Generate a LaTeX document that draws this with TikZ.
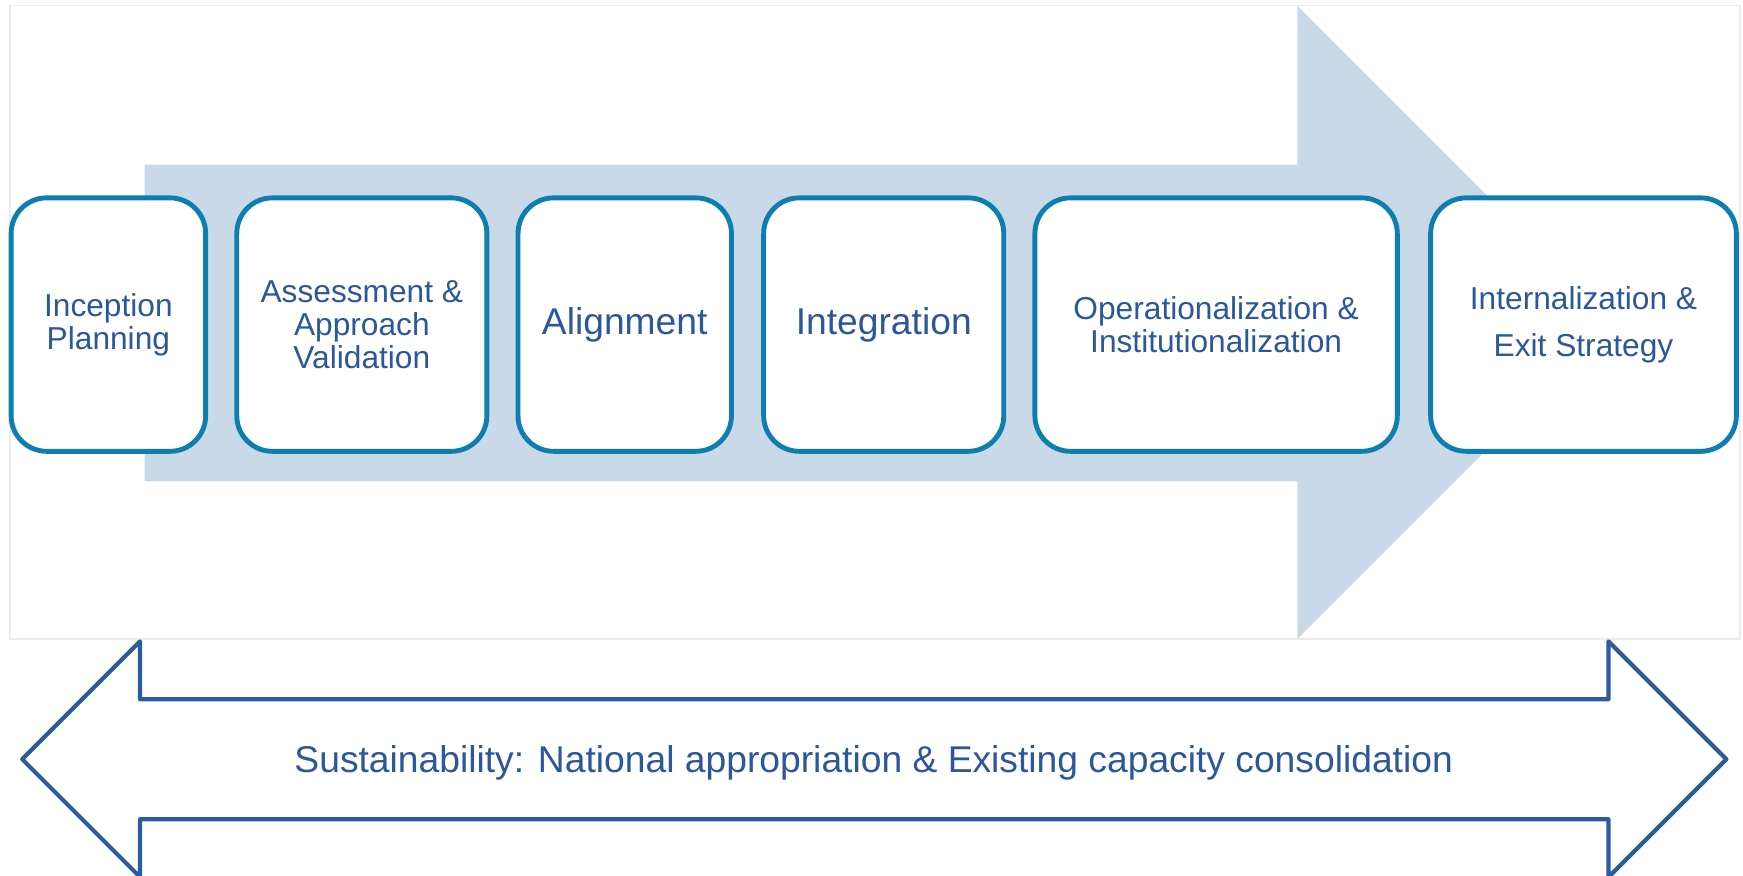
\documentclass[tikz,border=0pt]{standalone}
\usepackage{fontspec}
\setmainfont{Liberation Sans}
\usepackage{tikz}
\usetikzlibrary{positioning}
\definecolor{boxblue}{RGB}{14,125,176}
\definecolor{textblue}{RGB}{44,87,154}
\definecolor{flowblue}{RGB}{201,217,232}
\definecolor{navyline}{RGB}{43,92,157}
\definecolor{framegray}{RGB}{236,236,236}

\begin{document}
\begin{tikzpicture}
[x=0.5pt, y=-0.5pt,
frame/.style={draw=framegray, line width=0.8pt},
flow/.style={fill=flowblue},
phase/.style={rectangle, rounded corners=16pt, draw=boxblue, line width=2.2pt, fill=white, text=textblue, align=center, minimum height=114pt, outer sep=0pt, inner sep=2pt, font=\fontsize{14.25}{15}\selectfont},
bigphase/.style={phase, font=\fontsize{16.75}{20}\selectfont},
twoway/.style={draw=navyline, line width=1.9pt, line join=round, fill=white},
node distance=14pt,]
\useasboundingbox (0,0) rectangle (1568,788);
\draw [frame] (9,5) rectangle (1565,575);
\fill [flow] (130,148) -- (1167,148) -- (1167,5) -- (1452,290) -- (1167,575) -- (1167,433) -- (130,433) -- cycle;

\node (inception) [phase, minimum width=87.5pt] at (97.5,292) {Inception\\Planning};
\node (assessment) [phase, minimum width=112.5pt, right=14pt of inception] {Assessment \&\\Approach\\Validation};
\node (alignment) [bigphase, minimum width=96pt, right=14pt of assessment] {Alignment};
\node (integration) [bigphase, minimum width=108pt, right=14.5pt of alignment] {Integration};
\node (operational) [phase, minimum width=163pt, right=14pt of integration] {Operationalization \&\\Institutionalization};
\node (internal) [phase, minimum width=137.5pt, right=15pt of operational, font=\fontsize{14.25}{21}\selectfont] {Internalization \&\\Exit Strategy};

\draw [twoway] (20,683) -- (126,577) -- (126,629) -- (1447,629) -- (1447,577) -- (1553,683) -- (1447,789) -- (1447,737) -- (126,737) -- (126,789) -- cycle;
\node (sustain) [text=textblue, font=\fontsize{16.75}{20}\selectfont] at (786,686) {Sustainability: National appropriation \& Existing capacity consolidation};

\end{tikzpicture}
\end{document}
